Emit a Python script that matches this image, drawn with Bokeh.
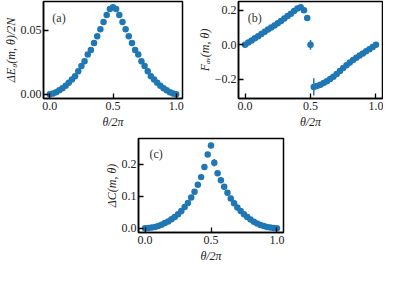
from bokeh.plotting import figure
from bokeh.layouts import column, row
from bokeh.models import Spacer, FixedTicker, Label, ColumnDataSource, Range1d, CustomJSTickFormatter
from bokeh.embed import file_html
from bokeh.resources import INLINE

# ---------------- data ----------------
theta = [0.000, 0.025, 0.050, 0.075, 0.100, 0.125, 0.150, 0.175, 0.200, 0.225,
         0.250, 0.275, 0.300, 0.325, 0.350, 0.375, 0.400, 0.425, 0.450, 0.475,
         0.500, 0.525, 0.550, 0.575, 0.600, 0.625, 0.650, 0.675, 0.700, 0.725,
         0.750, 0.775, 0.800, 0.825, 0.850, 0.875, 0.900, 0.925, 0.950, 0.975, 1.000]

dE0 = [0.0000, 0.0005, 0.0015, 0.0030, 0.0046, 0.0065, 0.0090, 0.0115, 0.0140, 0.0180,
       0.0220, 0.0257, 0.0310, 0.0346, 0.0400, 0.0454, 0.0508, 0.0565, 0.0620, 0.0667,
       0.0680, 0.0667, 0.0620, 0.0565, 0.0508, 0.0454, 0.0400, 0.0346, 0.0310, 0.0257,
       0.0220, 0.0180, 0.0140, 0.0115, 0.0090, 0.0065, 0.0046, 0.0030, 0.0015, 0.0005, 0.0000]

F_av = [0.000, 0.013, 0.025, 0.038, 0.050, 0.063, 0.075, 0.088, 0.100, 0.112,
        0.125, 0.138, 0.152, 0.166, 0.180, 0.195, 0.210, 0.217, 0.200, 0.155,
        0.000, -0.243, -0.238, -0.230, -0.220, -0.210, -0.198, -0.184, -0.168, -0.151,
        -0.134, -0.118, -0.102, -0.088, -0.075, -0.062, -0.050, -0.037, -0.025, -0.012, 0.000]
F_err = [0, 0, 0, 0, 0, 0, 0, 0, 0, 0,
         0, 0, 0, 0, 0, 0, 0, 0, 0, 0.004,
         0.028, 0.050, 0.004, 0, 0, 0, 0, 0, 0, 0,
         0, 0, 0, 0, 0, 0, 0, 0, 0, 0, 0]

dC = [0.0000, 0.0005, 0.0020, 0.0040, 0.0070, 0.0110, 0.0160, 0.0210, 0.0280, 0.0350,
      0.0440, 0.0540, 0.0660, 0.0790, 0.0960, 0.1140, 0.1360, 0.1600, 0.1920, 0.2310,
      0.2590, 0.2050, 0.1720, 0.1500, 0.1300, 0.1110, 0.0930, 0.0780, 0.0650, 0.0540,
      0.0440, 0.0350, 0.0270, 0.0200, 0.0150, 0.0100, 0.0065, 0.0040, 0.0020, 0.0005, 0.0000]
C_err = [0, 0, 0, 0, 0, 0, 0, 0, 0, 0,
         0, 0, 0, 0, 0, 0, 0, 0, 0, 0,
         0.003, 0.012, 0, 0, 0, 0, 0, 0, 0, 0,
         0, 0, 0, 0, 0, 0, 0, 0, 0, 0, 0]
E_err = [0] * len(theta)

x_ticks = [0.0, 0.5, 1.0]
a_ticks = [0.0, 0.05]
b_ticks = [-0.2, 0.0, 0.2]
c_ticks = [0.0, 0.1, 0.2]

FONT = "Liberation Serif"
BLUE = "#1f77b4"


def fmt(decimals):
    return CustomJSTickFormatter(code="return tick.toFixed(%d).replace('-', '\\u2212');" % decimals)


def panel(y, err, yr, yticks, ydec, ylabel, tag, tag_xy, width, height, bl, br, bt, bb):
    p = figure(width=width, height=height, output_backend="svg", toolbar_location=None,
               x_range=Range1d(-0.05, 1.05), y_range=Range1d(*yr),
               min_border_left=bl, min_border_right=br, min_border_top=bt, min_border_bottom=bb)
    p.grid.visible = False
    p.background_fill_color = "white"
    p.border_fill_color = "white"
    p.outline_line_color = "black"
    p.outline_line_width = 1.5
    p.outline_line_alpha = 1.0
    for ax in (p.xaxis[0], p.yaxis[0]):
        ax.axis_line_color = "black"
        ax.axis_line_width = 1.5
        ax.major_tick_in = 5
        ax.major_tick_out = 0
        ax.major_tick_line_width = 1.3
        ax.major_tick_line_color = "black"
        ax.minor_tick_line_color = None
        ax.major_label_text_font = FONT
        ax.major_label_text_font_size = "12px"
        ax.major_label_text_color = "#222"
        ax.major_label_standoff = 2
        ax.axis_label_text_font = FONT
        ax.axis_label_text_font_size = "12px"
        ax.axis_label_text_font_style = "italic"
        ax.axis_label_text_color = "#222"
        ax.axis_label_standoff = 0
    p.xaxis.ticker = FixedTicker(ticks=x_ticks)
    p.xaxis.formatter = fmt(1)
    p.yaxis.ticker = FixedTicker(ticks=yticks)
    p.yaxis.formatter = fmt(ydec)
    p.xaxis.axis_label = "θ/2π"
    p.xaxis.major_label_standoff = 3
    p.xaxis.axis_label_standoff = 2
    p.yaxis.axis_label = ylabel

    src = ColumnDataSource(dict(
        x=theta, y=y,
        lo=[v - e for v, e in zip(y, err)],
        hi=[v + e for v, e in zip(y, err)],
    ))
    p.segment(x0="x", y0="lo", x1="x", y1="hi", source=src, line_color=BLUE, line_width=1.5)
    p.scatter(x="x", y="y", source=src, size=6.5, fill_color=BLUE, line_color=None)

    p.add_layout(Label(x=tag_xy[0], y=tag_xy[1], text=tag, text_font=FONT,
                       text_font_size="12px", text_color="#333", text_baseline="middle"))
    return p


pa = panel(dE0, E_err, (-0.0034, 0.0725), a_ticks, 2, "ΔE₀(m, θ)/2N", "(a)", (0.02, 0.0598),
           192, 132, 38, 10, 1, 34)
pb = panel(F_av, F_err, (-0.31, 0.25), b_ticks, 1, "Fₐᵥ(m, θ)", "(b)", (0.02, 0.155),
           191, 132, 46, 1, 1, 34)
pc = panel(dC, C_err, (-0.0135, 0.281), c_ticks, 1, "ΔC(m, θ)", "(c)", (0.033, 0.234),
           187, 133, 38, 4, 6, 30)

layout = column(row(pa, pb), row(Spacer(width=100, height=133), pc))

open("out.html", "w").write(file_html(layout, INLINE))
